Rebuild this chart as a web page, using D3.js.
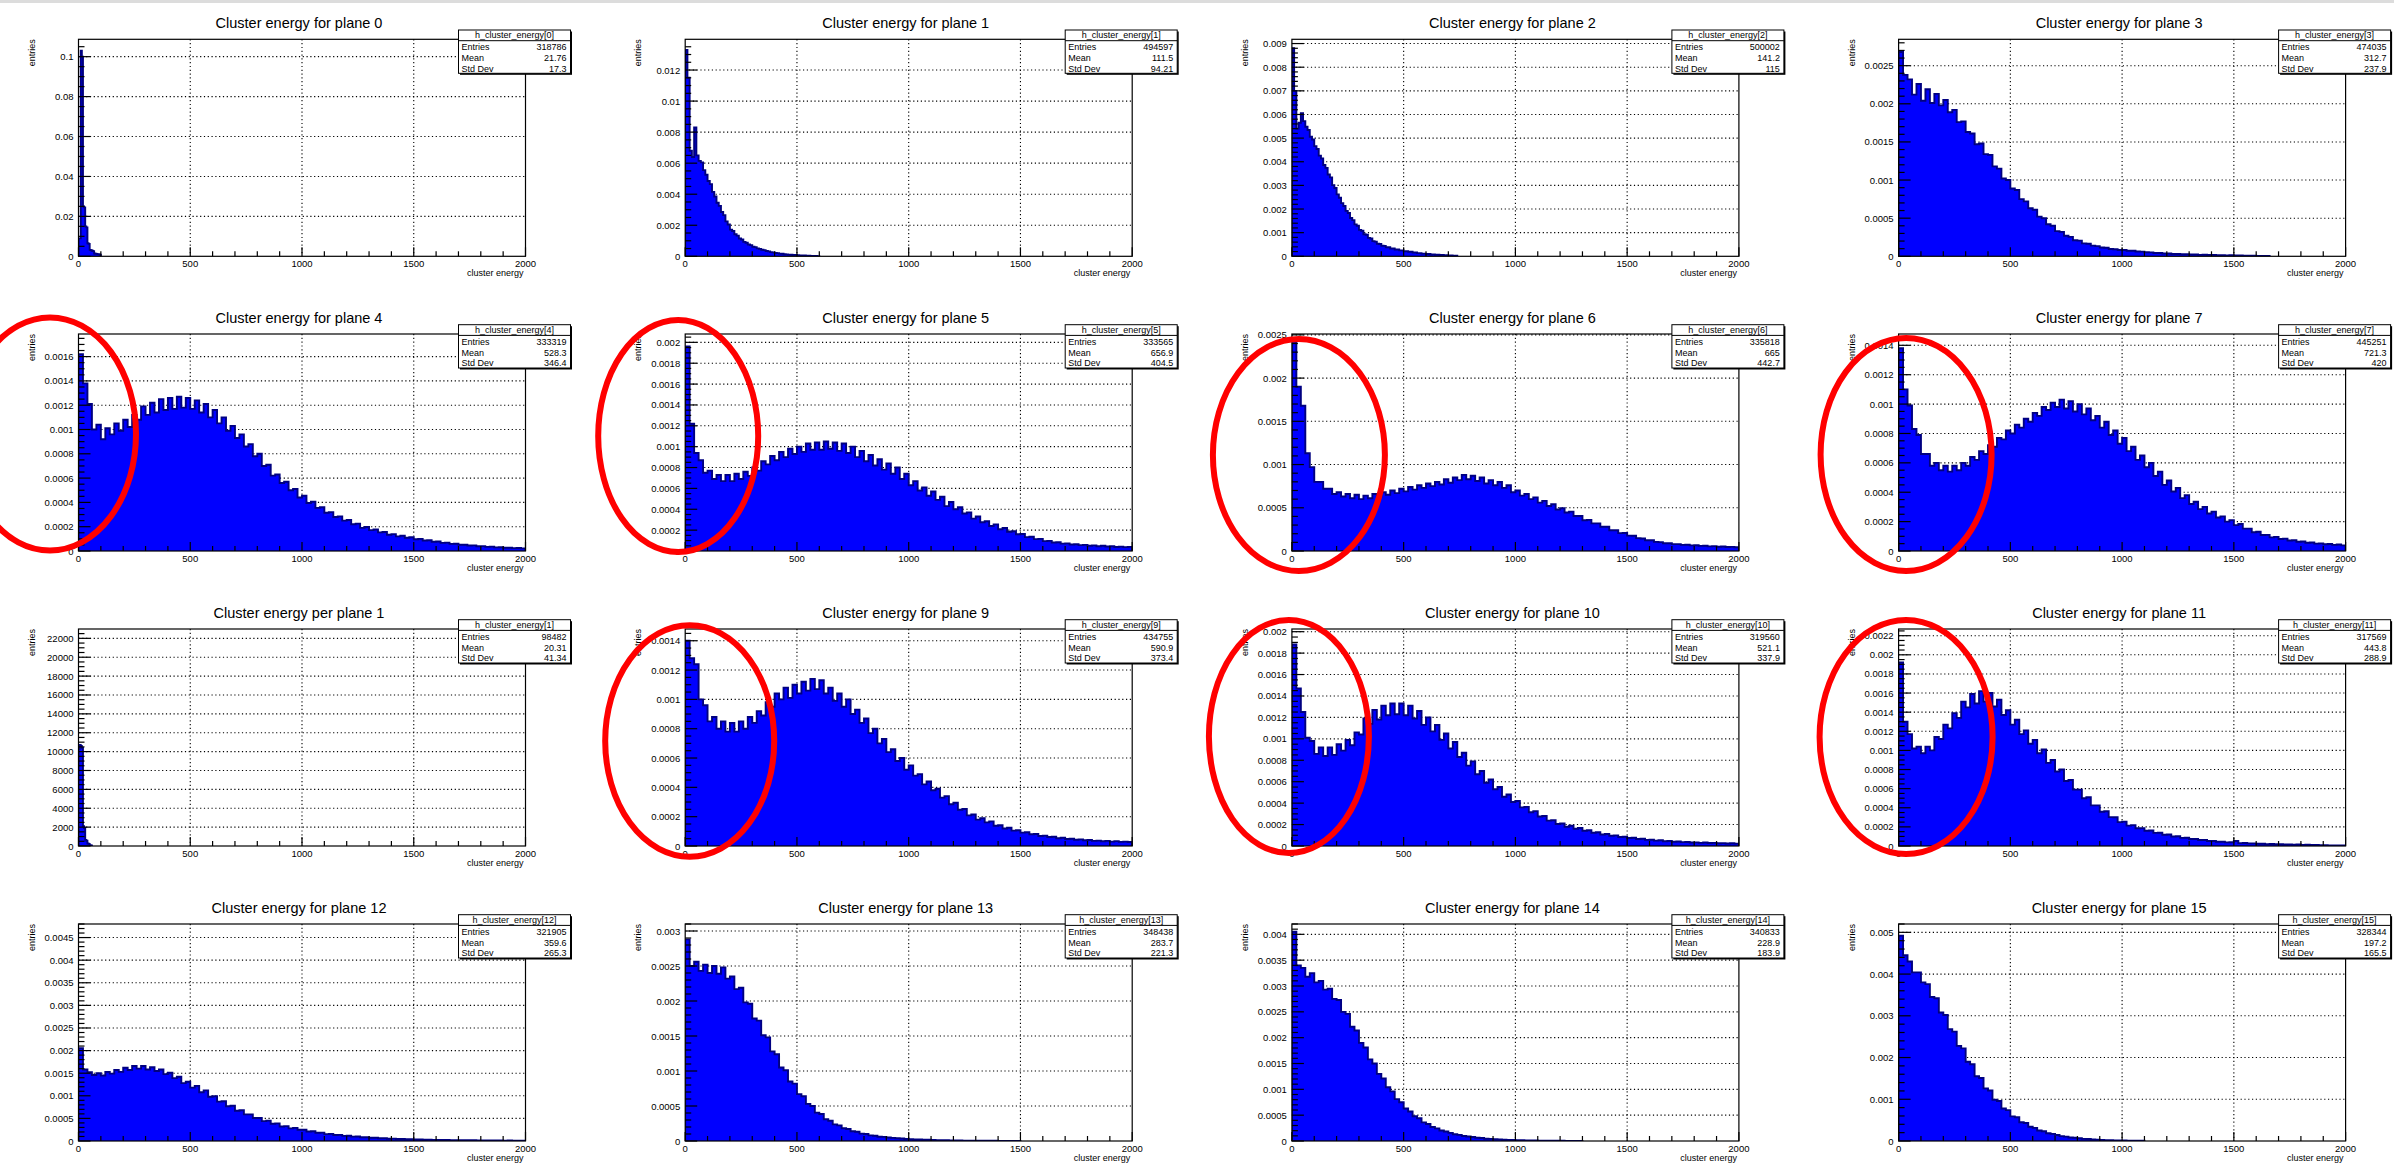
<!DOCTYPE html>
<html>
<head>
<meta charset="utf-8">
<script src="https://cdn.jsdelivr.net/npm/d3@7"></script>
<style>
  html, body { margin: 0; padding: 0; background: #fff; }
  svg { display: block; font-family: "Liberation Sans", Arial, Helvetica, sans-serif; }
</style>
</head>
<body>
<div id="chart"></div>
<script>
const W = 2394, H = 1167;

// ---- data ----
const titles = [
  "Cluster energy for plane 0", "Cluster energy for plane 1", "Cluster energy for plane 2", "Cluster energy for plane 3",
  "Cluster energy for plane 4", "Cluster energy for plane 5", "Cluster energy for plane 6", "Cluster energy for plane 7",
  "Cluster energy per plane 1", "Cluster energy for plane 9", "Cluster energy for plane 10", "Cluster energy for plane 11",
  "Cluster energy for plane 12", "Cluster energy for plane 13", "Cluster energy for plane 14", "Cluster energy for plane 15"
];
const histNames = [0, 1, 2, 3, 4, 5, 6, 7, 1, 9, 10, 11, 12, 13, 14, 15].map(n => `h_cluster_energy[${n}]`);
const statEntries = ["318786", "494597", "500002", "474035", "333319", "333565", "335818", "445251",
                     "98482", "434755", "319560", "317569", "321905", "348438", "340833", "328344"];
const statMeans = ["21.76", "111.5", "141.2", "312.7", "528.3", "656.9", "665", "721.3",
                   "20.31", "590.9", "521.1", "443.8", "359.6", "283.7", "228.9", "197.2"];
const statStdDevs = ["17.3", "94.21", "115", "237.9", "346.4", "404.5", "442.7", "420",
                     "41.34", "373.4", "337.9", "288.9", "265.3", "221.3", "183.9", "165.5"];

const binWidths  = [5, 10, 10, 20, 20, 20, 20, 20, 5, 20, 20, 20, 20, 20, 20, 20];
const valueUnits = [1e-3, 1e-5, 1e-5, 1e-5, 1e-5, 1e-5, 1e-5, 1e-5, 1, 1e-5, 1e-5, 1e-5, 1e-5, 1e-5, 1e-5, 1e-5];
const yMaxes = [0.1087, 0.01398, 0.00918, 0.002846, 0.001786, 0.00208, 0.00251, 0.001477,
                22990, 0.00148, 0.002025, 0.00227, 0.0048, 0.0031, 0.0042, 0.0052];
const yTickSteps = [0.02, 0.002, 0.001, 0.0005, 0.0002, 0.0002, 0.0005, 0.0002,
                    2000, 0.0002, 0.0002, 0.0002, 0.0005, 0.0005, 0.0005, 0.001];
const xTickValues = [0, 500, 1000, 1500, 2000];

// bin contents, in valueUnits
const plane0 = [9, 9, 103, 100, 25, 24.5, 15, 14.5, 6.5, 6.2, 3.2, 3, 2.8, 2.6, 1.4, 1.3, 1.2, 1.1, 1, 0.8];
const plane1 = [1330, 1150, 680, 640, 830, 650, 615, 605, 555, 525, 485, 465, 415, 385, 345, 325, 285, 265, 225, 205,
  172, 163, 142, 133, 115, 108, 93, 87, 76, 72, 62, 59, 51, 48, 42, 40, 34, 32, 27, 25.5,
  21.5, 20.5, 17.5, 16.5, 13.5, 12.5, 10.5, 10.3, 8.7, 8.2, 6.8, 6.2, 4.8, 5.1, 3.8, 3.2, 2.8, 2.1, 1.9, 1.1];
const plane2 = [880, 700, 540, 565, 605, 572, 548, 534, 506, 494, 466, 454, 426, 414, 386, 374, 346, 334, 301, 289,
  262, 248, 225, 213, 192, 183, 162, 153, 135, 129, 112, 108, 93, 91, 78, 75, 64, 62, 53, 52,
  44.5, 44, 38.5, 38, 33, 33, 29, 29, 25, 25, 21, 22, 19, 19, 16, 16, 13.5, 13.5, 11.5, 11.5,
  9.5, 9.5, 7.7, 8.3, 6.7, 6.3, 5.7, 5.3, 3.8, 4.2, 2.8, 3.2, 1.9, 2.1];
const plane3 = [268, 238, 232, 212, 226, 204, 219, 201, 213, 198, 205, 189, 192, 176, 177, 163, 161, 147, 148, 134,
  133, 118, 115, 102, 100, 89, 87, 75, 72, 63, 61, 52, 50, 42, 40, 33, 32, 27, 25.5, 21,
  20.5, 17, 16.4, 14, 13.4, 11.5, 11.2, 9.6, 9.3, 8.2, 8.3, 7.2, 7.2, 6.2, 6.1, 5.3, 5.1, 4.4, 4.3, 3.6,
  3.6, 3, 3.1, 2.6, 2.7, 2.3, 2.3, 1.9, 2, 1.7, 1.7, 1.4, 1.5, 1.2, 1.3, 1, 1.05, 0.85, 0.85, 0.65, 0.6, 0.5, 0.4];
const plane4 = [162, 138, 121, 100, 104, 92, 101, 96, 105, 99, 108, 102, 112, 108, 119, 112, 122, 114, 125, 116,
  126, 117, 127, 118, 126, 117, 124, 114, 121, 110, 116, 105, 110, 99, 103, 93, 96, 86, 88, 78,
  80, 70, 71, 62, 63, 56, 57, 50, 51, 44, 45.5, 39.5, 40.5, 35.5, 36, 31.5, 32, 28, 28.5, 25,
  25.5, 22, 22.5, 19, 19.8, 17.2, 17.7, 15.3, 15.6, 13.4, 13.9, 12, 12.5, 10.9, 11.3, 9.7, 10, 8.6, 8.9, 7.6,
  7.8, 6.7, 6.9, 5.9, 6, 5.1, 5.2, 4.5, 4.6, 3.9, 4, 3.4, 3.6, 3, 3.1, 2.7, 2.7, 2.4, 2.5, 2.2];
const plane5 = [196, 122, 94, 87, 75, 77, 69, 73, 67, 73, 67, 74, 69, 76, 72, 80, 77, 86, 83, 91,
  87, 95, 90, 98, 93, 100, 95, 103, 97, 104, 97, 105, 98, 104, 96, 103, 94, 100, 90, 96,
  86, 92, 82, 88, 78, 84, 74, 80, 69, 74, 63, 67, 58, 61, 53, 57, 49, 52, 43, 47,
  40, 42, 36, 37, 31, 33, 27.5, 28.5, 24, 25.5, 20.8, 22, 18.5, 19, 16, 16.3, 13.3, 13.7, 11.4, 11.6,
  9.5, 9.7, 8.1, 8.4, 7.1, 7.3, 6.3, 6.5, 5.6, 5.9, 5, 5.4, 4.6, 5, 4.3, 4.5, 3.9, 4.2, 3.7, 4];
const plane6 = [242, 190, 168, 113, 97, 80, 80, 72, 72, 66, 68, 63, 66, 61, 65, 60, 64, 61, 66, 63,
  68, 65, 70, 67, 72, 69, 74, 71, 76, 73, 78, 75, 80, 77, 83, 79, 85, 82, 88, 83,
  87, 81, 85, 78, 82, 76, 80, 73, 76, 68, 70, 64, 66, 60, 62, 56, 58, 52, 54, 48,
  49.5, 44.5, 45.5, 40.5, 40.5, 35.5, 36, 32, 32, 28, 28, 24, 24, 20.7, 20.8, 17.8, 17.6, 14.9, 14.5, 12.5,
  12.4, 10.6, 10.3, 9, 9, 7.9, 8, 7.1, 7.2, 6.5, 6.6, 5.9, 6, 5.4, 5.6, 5, 5.2, 4.6, 4.8, 4.3];
const plane7 = [138, 110, 99, 83, 79, 66, 66, 58, 60, 55, 58, 54, 58, 55, 60, 58, 64, 62, 68, 66,
  72, 71, 77, 76, 82, 80, 86, 84, 90, 88, 94, 92, 98, 96, 101, 98, 103, 97, 102, 95,
  100, 93, 97, 89, 92, 84, 88, 79, 82, 73, 77, 68, 71, 62, 65, 57, 60, 51, 54, 45,
  48, 40.5, 43, 36, 38, 32, 33.5, 28.5, 30, 25.5, 26.8, 22.8, 23.6, 20, 21, 17.6, 18.4, 15.2, 15.2, 12.8,
  13.1, 10.9, 11, 9.3, 9.6, 8.2, 8.4, 7.1, 7.3, 6.3, 6.5, 5.6, 5.8, 5, 5.2, 4.6, 4.8, 4.2, 4.4, 3.8];
const plane8 = [10300, 10700, 10600, 10400, 2100, 1900, 650, 550, 280, 220, 90, 70];
const plane9 = [140, 128, 124, 100, 96, 85, 88, 80, 85, 78, 84, 78, 85, 80, 88, 84, 92, 89, 98, 95,
  104, 100, 108, 101, 110, 104, 112, 106, 114, 107, 113, 104, 108, 99, 104, 95, 100, 90, 93, 84,
  87, 77, 80, 70, 73, 64, 66, 58, 60, 52, 55, 48, 49, 42, 44, 38, 39, 33, 34, 28.5,
  29.5, 24.7, 25.2, 20.9, 21.5, 18, 18.9, 16.1, 16.8, 13.8, 14.2, 11.9, 12.4, 10.5, 10.7, 9.1, 9.4, 8, 8.2, 6.8,
  7.1, 6.1, 6.3, 5.3, 5.6, 4.8, 4.9, 4.3, 4.5, 3.9, 4.1, 3.5, 3.7, 3.2, 3.5, 3, 3.3, 2.8, 3, 2.7];
const plane10 = [188, 147, 125, 101, 98, 86, 92, 84, 92, 85, 95, 89, 99, 94, 106, 104, 119, 114, 127, 118,
  131, 122, 133, 123, 133, 122, 131, 119, 126, 113, 120, 107, 113, 99, 105, 91, 97, 83, 87, 75,
  79, 67, 70, 59, 62, 53, 55, 46, 48, 41, 42, 36, 36.5, 31.5, 32.5, 27.5, 28, 23.7, 24, 20.5,
  21, 18, 18.9, 16.1, 16.8, 14.2, 14.7, 12.3, 12.8, 10.8, 11.2, 9.5, 9.9, 8.4, 8.7, 7.4, 7.7, 6.5, 6.7, 5.7,
  5.9, 5, 5.3, 4.5, 4.6, 4, 4.2, 3.6, 3.8, 3.2, 3.4, 2.9, 3.2, 2.8, 2.9, 2.6, 2.7, 2.4, 2.5, 2.2];
const plane11 = [192, 130, 117, 102, 104, 97, 104, 100, 114, 112, 127, 123, 139, 134, 151, 145, 159, 149, 162, 151,
  160, 146, 153, 137, 142, 127, 132, 117, 121, 107, 111, 97, 101, 87, 90, 78, 80, 68, 69, 59,
  59, 50, 51, 42.5, 42.5, 35.8, 36.3, 30.2, 30, 25, 25.5, 21.3, 21.8, 18.5, 18.7, 15.9, 16.2, 13.7, 13.9, 11.7,
  12, 10, 10.2, 8.5, 8.6, 7.3, 7.4, 6.2, 6.3, 5.2, 5.3, 4.5, 4.5, 3.8, 3.9, 5.2, 3, 3.1, 2.7, 2.7,
  2.3, 2.3, 2, 2.1, 1.8, 1.9, 1.6, 1.7, 1.4, 1.5, 1.2, 1.25, 1, 1.05, 0.85, 0.85, 0.65, 0.65, 0.45, 0.5];
const plane12 = [205, 158, 152, 146, 150, 145, 153, 149, 157, 153, 162, 157, 166, 160, 166, 158, 163, 155, 158, 148,
  151, 139, 142, 128, 131, 118, 122, 108, 112, 98, 99, 87, 88, 77, 78, 67, 68, 59, 59, 51,
  51, 44, 45, 38, 39, 32, 33, 28, 29, 25, 25, 21, 21.5, 18.2, 18.5, 15.3, 15.7, 13.3, 13.6, 11.4,
  11.5, 9.7, 9.9, 8.3, 8.4, 7.1, 7.2, 6, 6.1, 5.1, 5.3, 4.4, 4.5, 3.8, 3.9, 3.2, 3.4, 2.8, 3, 2.5,
  2.5, 2.1, 2.2, 1.9, 2, 1.7, 1.8, 1.5, 1.6, 1.3, 1.35, 1.1, 1.2, 1, 1.05, 0.85, 0.95, 0.75, 0.85, 0.7];
const plane13 = [288, 250, 256, 243, 252, 240, 250, 239, 248, 232, 235, 217, 219, 198, 196, 175, 172, 151, 148, 128,
  124, 105, 101, 85, 82, 67, 64, 53, 50, 40.5, 38.5, 31, 29, 23.7, 22.3, 18.3, 17.2, 14, 13.2, 10.6,
  10, 8.1, 7.6, 6.1, 5.9, 5, 4.5, 3.9, 3.5, 2.8, 2.7, 2.2, 2.1, 1.7, 1.7, 1.35, 1.3, 1.05, 1.05, 0.85,
  0.8, 0.7, 0.6, 0.55, 0.5, 0.45, 0.4, 0.35, 0.3, 0.3, 0.25, 0.2, 0.2, 0.15, 0.1];
const plane14 = [405, 340, 335, 318, 325, 307, 310, 293, 295, 275, 273, 250, 246, 221, 214, 190, 181, 158, 150, 130,
  121, 104, 96, 81, 75, 63, 57, 48, 44, 36, 33, 27, 24.5, 20.4, 18.4, 15.8, 13.2, 11.8, 9.7, 8.8,
  7.6, 6.2, 5.7, 4.5, 4.1, 3.4, 3.1, 2.5, 2.2, 1.8, 1.65, 1.35, 1.25, 0.95, 0.95, 0.75, 0.75, 0.55, 0.55, 0.4,
  0.4, 0.3, 0.3, 0.2, 0.2];
const plane15 = [492, 445, 430, 404, 404, 380, 376, 345, 342, 308, 302, 268, 262, 228, 222, 190, 184, 155, 151, 126,
  121, 99, 96, 78, 74, 59, 57, 45, 43, 34, 31.5, 25, 23.3, 18.6, 17, 14.4, 11.6, 10.6, 8.4, 7.7,
  6.5, 5.1, 4.7, 3.6, 3.3, 2.8, 2.2, 2, 1.5, 1.45, 1.25, 0.95, 0.9, 0.65, 0.6];
const histValues = [plane0, plane1, plane2, plane3, plane4, plane5, plane6, plane7,
                    plane8, plane9, plane10, plane11, plane12, plane13, plane14, plane15];

// hand-drawn red rings, offsets relative to each panel frame's top-left corner
const rings = [
  { panel: 4,  dx: -28.5, dy: 100,   rx: 86,   ry: 116.5 },
  { panel: 5,  dx: -7,    dy: 102,   rx: 80,   ry: 116 },
  { panel: 6,  dx: 7,     dy: 121,   rx: 86,   ry: 116 },
  { panel: 7,  dx: 7.5,   dy: 120.5, rx: 85.5, ry: 116.5 },
  { panel: 9,  dx: 4.5,   dy: 112,   rx: 84.5, ry: 115.7 },
  { panel: 10, dx: -3,    dy: 107.5, rx: 80,   ry: 116.5 },
  { panel: 11, dx: 7.5,   dy: 108,   rx: 86.5, ry: 117 }
];

// ---- layout ----
const frameLeft0 = 78.5, colPitch = 606.7, frameW = 447, frameH = 217;
const rowTops = [39.3, 334, 629, 924];
const fmt = d3.format("~g");

const svg = d3.select("#chart").append("svg").attr("width", W).attr("height", H);
svg.append("rect").attr("width", W).attr("height", H).attr("fill", "#fff");
svg.append("rect").attr("width", W).attr("height", 3).attr("fill", "#dcdcdc");

const panelFrames = titles.map((t, i) => drawPanel(i));

// red rings on top of everything
svg.append("g")
  .selectAll("ellipse")
  .data(rings)
  .enter()
  .append("ellipse")
  .attr("cx", d => panelFrames[d.panel].left + d.dx)
  .attr("cy", d => panelFrames[d.panel].top + d.dy)
  .attr("rx", d => d.rx)
  .attr("ry", d => d.ry)
  .attr("fill", "none")
  .attr("stroke", "#ff0000")
  .attr("stroke-width", 6);

function tickRange(step, max) {
  const n = Math.floor(max / step + 1e-9);
  return d3.range(0, n + 1).map(k => +(k * step).toPrecision(12));
}

function drawPanel(i) {
  const col = i % 4, row = Math.floor(i / 4);
  const left = frameLeft0 + col * colPitch;
  const top = rowTops[row];
  const right = left + frameW, bottom = top + frameH;

  const x = d3.scaleLinear().domain([0, 2000]).range([left, right]);
  const y = d3.scaleLinear().domain([0, yMaxes[i]]).range([bottom, top]);
  const g = svg.append("g").attr("class", "panel");

  const step = yTickSteps[i];
  const yMajor = tickRange(step, yMaxes[i]);
  const lead = +step.toExponential().charAt(0);
  const yMinor = tickRange(step / (lead === 2 ? 4 : 5), yMaxes[i]);
  const xMinor = d3.range(0, 2001, 100);

  // dotted grid
  const grid = g.append("g")
    .attr("stroke", "#000")
    .attr("stroke-width", 1.1)
    .attr("stroke-dasharray", "1.2,2.6");
  grid.selectAll("line.gx")
    .data(xTickValues.filter(v => v > 0 && v < 2000))
    .enter().append("line")
    .attr("x1", d => x(d)).attr("x2", d => x(d))
    .attr("y1", top).attr("y2", bottom);
  grid.selectAll("line.gy")
    .data(yMajor.filter(v => v > 0))
    .enter().append("line")
    .attr("x1", left).attr("x2", right)
    .attr("y1", d => y(d)).attr("y2", d => y(d));

  // histogram
  const bw = binWidths[i], unit = valueUnits[i];
  const bins = histValues[i].map((v, k) => ({ x0: k * bw, v: v * unit }));
  const end = bins.length * bw;
  const areaPts = bins.concat([{ x0: end, v: bins[bins.length - 1].v }]);
  const linePts = [{ x0: 0, v: 0 }].concat(areaPts, [{ x0: end, v: 0 }]);

  const clipId = "clip" + i;
  svg.append("clipPath").attr("id", clipId)
    .append("rect").attr("x", left).attr("y", top).attr("width", frameW).attr("height", frameH);

  const hist = g.append("g").attr("clip-path", `url(#${clipId})`);
  hist.append("path")
    .datum(areaPts)
    .attr("fill", "#0000ff")
    .attr("d", d3.area().curve(d3.curveStepAfter)
      .x(d => x(d.x0)).y0(y(0)).y1(d => y(d.v)));
  hist.append("path")
    .datum(linePts)
    .attr("fill", "none")
    .attr("stroke", "#000080")
    .attr("stroke-width", 1.9)
    .attr("stroke-linejoin", "miter")
    .attr("d", d3.line().curve(d3.curveStepAfter)
      .x(d => x(d.x0)).y(d => y(d.v)));

  // frame
  g.append("rect")
    .attr("x", left).attr("y", top)
    .attr("width", frameW).attr("height", frameH)
    .attr("fill", "none").attr("stroke", "#000").attr("stroke-width", 1.2);

  // ticks (pointing inwards, ROOT style)
  const ticks = g.append("g").attr("stroke", "#000").attr("stroke-width", 1.2);
  ticks.selectAll("line.xt")
    .data(xMinor)
    .enter().append("line")
    .attr("x1", d => x(d)).attr("x2", d => x(d))
    .attr("y1", bottom)
    .attr("y2", d => bottom - (d % 500 === 0 ? 9 : 5));
  ticks.selectAll("line.yt")
    .data(yMinor)
    .enter().append("line")
    .attr("x1", left)
    .attr("x2", d => left + (yMajor.some(m => Math.abs(m - d) < step * 1e-6) ? 12 : 6))
    .attr("y1", d => y(d)).attr("y2", d => y(d));

  // tick labels
  g.append("g")
    .attr("font-size", 9.5)
    .attr("text-anchor", "middle")
    .selectAll("text")
    .data(xTickValues)
    .enter().append("text")
    .attr("x", d => x(d))
    .attr("y", bottom + 10.5)
    .text(d => d);
  g.append("g")
    .attr("font-size", 9.5)
    .attr("text-anchor", "end")
    .selectAll("text")
    .data(yMajor)
    .enter().append("text")
    .attr("x", left - 5)
    .attr("y", d => y(d) + 3.5)
    .text(d => fmt(d));

  // axis titles
  g.append("text")
    .attr("x", right - 2)
    .attr("y", bottom + 19.5)
    .attr("font-size", 9)
    .attr("text-anchor", "end")
    .text("cluster energy");
  g.append("text")
    .attr("transform", `translate(${left - 44},${top}) rotate(-90)`)
    .attr("font-size", 9)
    .attr("text-anchor", "end")
    .text("entries");

  // title
  g.append("text")
    .attr("x", (left + right) / 2 - 3)
    .attr("y", top - 11)
    .attr("font-size", 14.5)
    .attr("text-anchor", "middle")
    .text(titles[i]);

  // stats box
  const bx0 = right - 67, bx1 = right + 45, by0 = top - 9.3, by1 = top + 34;
  const stats = g.append("g");
  stats.append("rect")
    .attr("x", bx0 + 1.5).attr("y", by0 + 1.5)
    .attr("width", bx1 - bx0).attr("height", by1 - by0)
    .attr("fill", "#000");
  stats.append("rect")
    .attr("x", bx0).attr("y", by0)
    .attr("width", bx1 - bx0).attr("height", by1 - by0)
    .attr("fill", "#fff").attr("stroke", "#000").attr("stroke-width", 1);
  stats.append("line")
    .attr("x1", bx0).attr("x2", bx1)
    .attr("y1", top + 1.4).attr("y2", top + 1.4)
    .attr("stroke", "#000").attr("stroke-width", 1);
  stats.append("text")
    .attr("x", (bx0 + bx1) / 2).attr("y", top - 1)
    .attr("font-size", 9).attr("text-anchor", "middle")
    .text(histNames[i]);
  const rows = [["Entries", statEntries[i]], ["Mean", statMeans[i]], ["Std Dev", statStdDevs[i]]];
  rows.forEach(([label, value], k) => {
    const ty = top + 10.8 + k * 10.7;
    stats.append("text").attr("x", bx0 + 3).attr("y", ty).attr("font-size", 9).text(label);
    stats.append("text").attr("x", bx1 - 4).attr("y", ty).attr("font-size", 9)
      .attr("text-anchor", "end").text(value);
  });

  return { left, top, right, bottom };
}
</script>
</body>
</html>
